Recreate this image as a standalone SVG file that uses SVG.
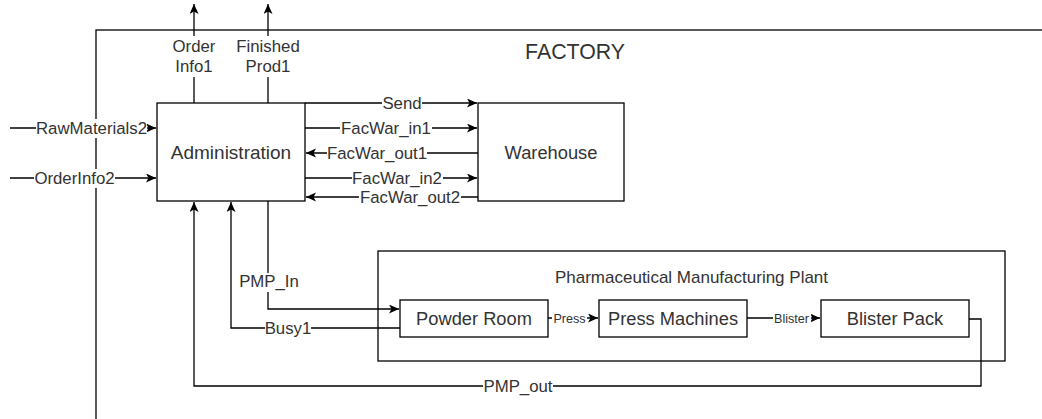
<svg xmlns="http://www.w3.org/2000/svg" width="1042" height="419" viewBox="0 0 1042 419">
<style>
.box{fill:#fff;stroke:#000;stroke-width:1.3}
.frame{fill:none;stroke:#000;stroke-width:1.3}
.ln{fill:none;stroke:#000;stroke-width:1.3}
.bt{font-family:"Liberation Sans",Arial,sans-serif;font-size:18.3px;fill:#333;text-anchor:middle}
.lt{font-family:"Liberation Sans",Arial,sans-serif;font-size:16.8px;fill:#333;text-anchor:middle}
.st{font-family:"Liberation Sans",Arial,sans-serif;font-size:12.6px;fill:#333;text-anchor:middle}
.bg{fill:#fff;stroke:none}
</style>
<defs>
<marker id="arr" markerUnits="userSpaceOnUse" markerWidth="12" markerHeight="10" refX="10" refY="4.5" orient="auto">
<path d="M0,0 L10,4.5 L0,9 L2.5,4.5 Z" fill="#000"/>
</marker>
</defs>
<rect class="frame" x="96" y="30" width="1000" height="500"/>
<text class="bt" x="575" y="59" style="font-size:21.3px">FACTORY</text>

<g id="connectors">
<path class="ln" d="M194,103 L194,4" marker-end="url(#arr)"/>
<path class="ln" d="M268,103 L268,4" marker-end="url(#arr)"/>
<path class="ln" d="M10,128 L156,128" marker-end="url(#arr)"/>
<path class="ln" d="M10,178 L156,178" marker-end="url(#arr)"/>
<path class="ln" d="M305,103 L477,103" marker-end="url(#arr)"/>
<path class="ln" d="M305,128 L477,128" marker-end="url(#arr)"/>
<path class="ln" d="M478,153 L306,153" marker-end="url(#arr)"/>
<path class="ln" d="M305,178 L477,178" marker-end="url(#arr)"/>
<path class="ln" d="M478,197 L306,197" marker-end="url(#arr)"/>
<path class="ln" d="M969,319 L981,319 L981,386 L194,386 L194,202" marker-end="url(#arr)"/>
<path class="ln" d="M400,328 L231,328 L231,202" marker-end="url(#arr)"/>
<path class="ln" d="M268,201 L268,309 L399,309" marker-end="url(#arr)"/>
<path class="ln" d="M548,318 L598,318" marker-end="url(#arr)"/>
<path class="ln" d="M747,318 L820,318" marker-end="url(#arr)"/>

<rect class="bg" x="171" y="36" width="46" height="41"/>
<text class="lt" x="194" y="52">Order</text>
<text class="lt" x="194" y="72">Info1</text>
<rect class="bg" x="235" y="36" width="66" height="41"/>
<text class="lt" x="268" y="52">Finished</text>
<text class="lt" x="268" y="72">Prod1</text>

<rect class="bg" x="36" y="119" width="111" height="19"/>
<text class="lt" x="91.5" y="134">RawMaterials2</text>
<rect class="bg" x="34" y="169" width="81" height="19"/>
<text class="lt" x="74.5" y="184">OrderInfo2</text>

<rect class="bg" x="382" y="94" width="40" height="18"/>
<text class="lt" x="402" y="109">Send</text>
<rect class="bg" x="340" y="119" width="92" height="18"/>
<text class="lt" x="386" y="134">FacWar_in1</text>
<rect class="bg" x="327" y="144" width="100" height="18"/>
<text class="lt" x="377" y="159">FacWar_out1</text>
<rect class="bg" x="352" y="169" width="91" height="18"/>
<text class="lt" x="397" y="184">FacWar_in2</text>
<rect class="bg" x="359" y="188" width="102" height="18"/>
<text class="lt" x="410" y="203">FacWar_out2</text>

<rect class="bg" x="483" y="377" width="70" height="19"/>
<text class="lt" x="518" y="392">PMP_out</text>
<rect class="bg" x="265" y="319" width="46" height="19"/>
<text class="lt" x="288" y="334">Busy1</text>
<rect class="bg" x="239" y="273" width="60" height="19"/>
<text class="lt" x="269" y="287">PMP_In</text>
</g>

<g id="factory-admin">
<rect class="box" x="157" y="103" width="148" height="98"/>
<text class="bt" x="231" y="159" style="font-size:19px">Administration</text>
</g>
<g id="warehouse">
<rect class="box" x="478" y="103" width="146" height="98"/>
<text class="bt" x="551" y="159">Warehouse</text>
</g>
<g id="pmp">
<rect class="frame" x="378" y="251" width="627" height="110"/>
<text class="lt" x="691.5" y="283" style="font-size:17px">Pharmaceutical Manufacturing Plant</text>
</g>
<g id="powder-room">
<rect class="box" x="400" y="300" width="148" height="37"/>
<text class="bt" x="474" y="325">Powder Room</text>
</g>
<g id="press-machines">
<rect class="box" x="599" y="300" width="148" height="37"/>
<text class="bt" x="673" y="325">Press Machines</text>
</g>
<g id="blister-pack">
<rect class="box" x="821" y="300" width="148" height="37"/>
<text class="bt" x="895" y="325">Blister Pack</text>
</g>
<g id="inner-labels">
<rect class="bg" x="552" y="311" width="35" height="14"/>
<text class="st" x="569.5" y="322.5">Press</text>
<rect class="bg" x="773" y="311" width="38" height="14"/>
<text class="st" x="791.5" y="322.5">Blister</text>
</g>
</svg>
